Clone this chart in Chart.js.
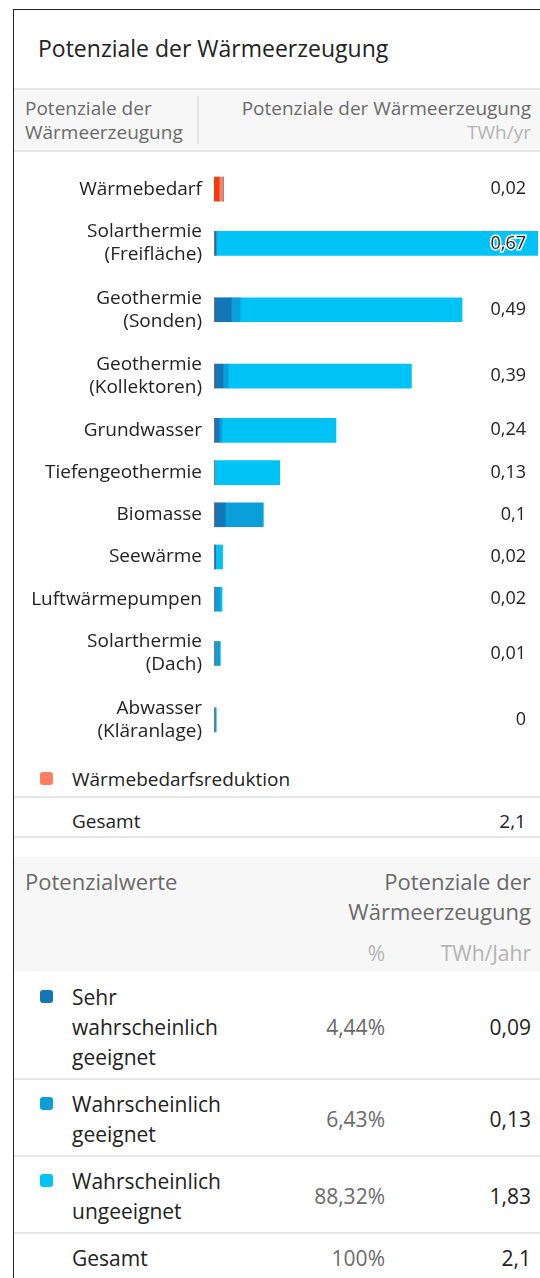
<!DOCTYPE html>
<html>
<head>
<meta charset="utf-8">
<script src="https://cdn.jsdelivr.net/npm/chart.js@4/dist/chart.umd.min.js"></script>
<style>
  body { margin: 0; background: #fff; font-family: "Open Sans", sans-serif; color: #222; }
  #page { position: relative; width: 540px; height: 1278px; overflow: hidden; }
  .frame { position: absolute; left: 13px; top: 9px; width: 600px; height: 1300px; border-left: 1px solid #222; border-top: 1px solid #222; }
  .abs { position: absolute; white-space: nowrap; }
  .title { left: 38px; top: 33px; font-size: 23px; line-height: 30px; color: #222; }
  .band { position: absolute; left: 14px; width: 540px; background: #f7f7f7; }
  .hline { position: absolute; left: 14px; width: 540px; height: 2px; background: #e7e7e7; }
  .grey { color: #6a6a6a; }
  .light { color: #b4b4b4; }
  .sq { position: absolute; width: 13px; height: 13px; border-radius: 3px; }
  .row { font-size: 21px; line-height: 30px; }
  #chartBox { position: absolute; left: 14px; top: 160px; width: 526px; height: 593px; }
</style>
</head>
<body>
<div id="page">
  <div class="frame"></div>
  <div class="abs title">Potenziale der Wärmeerzeugung</div>

  <div class="band" style="top:88px;height:64px;"></div>
  <div class="hline" style="top:88px;"></div>
  <div class="hline" style="top:150px;"></div>
  <div class="abs grey" style="left:25px;top:96px;font-size:19px;line-height:24px;">Potenziale der<br>Wärmeerzeugung</div>
  <div style="position:absolute;left:197px;top:96px;width:2px;height:48px;background:#e2e2e2;"></div>
  <div class="abs grey" style="right:9px;top:96px;font-size:19px;line-height:24px;text-align:right;">Potenziale der Wärmeerzeugung<br><span class="light">TWh/yr</span></div>

  <div id="chartBox"><canvas id="chart"></canvas></div>

  <div class="sq" style="left:40px;top:772px;background:#ff7e62;"></div>
  <div class="abs" id="redLegend" style="left:72px;top:766px;font-size:19px;line-height:26px;"></div>
  <div class="hline" style="top:796px;"></div>
  <div class="abs" style="left:72px;top:808px;font-size:19px;line-height:26px;">Gesamt</div>
  <div class="abs" id="chartTotal" style="right:14px;top:808px;font-size:19px;line-height:26px;"></div>
  <div class="hline" style="top:836px;"></div>

  <div class="band" style="top:857px;height:114px;"></div>
  <div class="abs grey" style="left:25px;top:866px;font-size:22px;line-height:30px;">Potenzialwerte</div>
  <div class="abs grey" style="right:9px;top:866px;font-size:22px;line-height:30px;text-align:right;">Potenziale der<br>Wärmeerzeugung</div>
  <div class="abs light" style="right:155px;top:938px;font-size:21px;line-height:30px;">%</div>
  <div class="abs light" style="right:9px;top:938px;font-size:21px;line-height:30px;">TWh/Jahr</div>

  <div id="table"></div>
</div>

<script>
// categories (label lines)
const categories = [
    ['Wärmebedarf'],
    ['Solarthermie', '(Freifläche)'],
    ['Geothermie', '(Sonden)'],
    ['Geothermie', '(Kollektoren)'],
    ['Grundwasser'],
    ['Tiefengeothermie'],
    ['Biomasse'],
    ['Seewärme'],
    ['Luftwärmepumpen'],
    ['Solarthermie', '(Dach)'],
    ['Abwasser', '(Kläranlage)']
];

// TWh/yr per category and series
const waermebedarf          = [0.010, 0, 0, 0, 0, 0, 0, 0, 0, 0, 0];
const waermebedarfReduktion = [0.008, 0, 0, 0, 0, 0, 0, 0, 0, 0, 0];
const sehrGeeignet          = [0, 0.004, 0.034, 0.018, 0.010, 0, 0.022, 0.003, 0, 0, 0];
const geeignet              = [0, 0, 0.018, 0.010, 0.006, 0, 0.075, 0, 0.012, 0.012, 0.004];
const ungeeignet            = [0, 0.666, 0.438, 0.362, 0.225, 0.13, 0, 0.014, 0.004, 0, 0];

// shown totals per category
const totals = ['0,02', '0,67', '0,49', '0,39', '0,24', '0,13', '0,1', '0,02', '0,02', '0,01', '0'];
const chartTotal = '2,1';

// summary table
const seriesNames = [['Sehr', 'wahrscheinlich', 'geeignet'], ['Wahrscheinlich', 'geeignet'], ['Wahrscheinlich', 'ungeeignet']];
const seriesPercent = ['4,44%', '6,43%', '88,32%'];
const seriesTWh = ['0,09', '0,13', '1,83'];
const tableTotal = ['Gesamt', '100%', '2,1'];

const colors = ['#1376b8', '#0a9fd9', '#00c3f5'];
const redColors = ['#f03c0f', '#ff7e62'];

// row heights depend on number of label lines
const rowCenters = [];
let pos = 0;
categories.forEach(c => {
    const h = c.length > 1 ? 66 : 42;
    rowCenters.push(pos + h / 2);
    pos += h;
});
const rowTotal = pos;

function points(values) {
    return values.map((v, i) => ({ x: v, y: rowCenters[i] }));
}

const font = { family: '"Open Sans", sans-serif', size: 19 };

const valueLabels = {
    id: 'valueLabels',
    afterDatasetsDraw(chart) {
        const ctx = chart.ctx;
        const yScale = chart.scales.y;
        ctx.save();
        ctx.font = '18px "Open Sans", sans-serif';
        ctx.textAlign = 'right';
        ctx.textBaseline = 'middle';
        ctx.lineWidth = 3;
        ctx.strokeStyle = '#fff';
        ctx.fillStyle = '#222';
        totals.forEach((t, i) => {
            const y = yScale.getPixelForValue(rowCenters[i]);
            ctx.strokeText(t, chart.width - 14, y);
            ctx.fillText(t, chart.width - 14, y);
        });
        ctx.restore();
    }
};

new Chart(document.getElementById('chart'), {
    type: 'bar',
    data: {
        datasets: [
            { label: 'Wärmebedarf', data: points(waermebedarf), backgroundColor: redColors[0] },
            { label: 'Wärmebedarfsreduktion', data: points(waermebedarfReduktion), backgroundColor: redColors[1] },
            { label: 'Sehr wahrscheinlich geeignet', data: points(sehrGeeignet), backgroundColor: colors[0] },
            { label: 'Wahrscheinlich geeignet', data: points(geeignet), backgroundColor: colors[1] },
            { label: 'Wahrscheinlich ungeeignet', data: points(ungeeignet), backgroundColor: colors[2] }
        ]
    },
    options: {
        indexAxis: 'y',
        responsive: true,
        maintainAspectRatio: false,
        animation: false,
        barThickness: 24,
        layout: { padding: { top: 8, right: 2, bottom: 0, left: 0 } },
        plugins: { legend: { display: false }, tooltip: { enabled: false } },
        scales: {
            x: { stacked: true, display: false, min: 0, max: 0.64 },
            y: {
                type: 'linear',
                stacked: true,
                reverse: true,
                offset: false,
                min: 0,
                max: rowTotal,
                grid: { display: false, drawTicks: false },
                border: { display: false },
                afterBuildTicks: scale => { scale.ticks = rowCenters.map(v => ({ value: v })); },
                afterFit: scale => {
                    scale.width = 200;
                    scale.paddingTop = 0;
                    scale.paddingBottom = 0;
                },
                ticks: {
                    autoSkip: false,
                    padding: 12,
                    color: '#222',
                    font: font,
                    callback: (v, i) => categories[i]
                }
            }
        }
    },
    plugins: [valueLabels]
});

document.getElementById('redLegend').textContent = 'Wärmebedarfsreduktion';
document.getElementById('chartTotal').textContent = chartTotal;

// summary rows
const table = document.getElementById('table');
let rowTop = 982;
let html = '';
seriesNames.forEach((name, i) => {
    const h = name.length * 30;
    html += `
        <div class="sq" style="left:40px;top:${rowTop + 8}px;background:${colors[i]};"></div>
        <div class="abs row" style="left:72px;top:${rowTop}px;">${name.join('<br>')}</div>
        <div class="abs row grey" style="right:155px;top:${rowTop + h / 2 - 15}px;">${seriesPercent[i]}</div>
        <div class="abs row" style="right:9px;top:${rowTop + h / 2 - 15}px;">${seriesTWh[i]}</div>
        <div class="hline" style="top:${rowTop + h + 6}px;"></div>`;
    rowTop += h + 17;
});
html += `
    <div class="abs row" style="left:72px;top:${rowTop}px;">${tableTotal[0]}</div>
    <div class="abs row grey" style="right:155px;top:${rowTop}px;">${tableTotal[1]}</div>
    <div class="abs row" style="right:9px;top:${rowTop}px;">${tableTotal[2]}</div>`;
table.innerHTML = html;
</script>
</body>
</html>
